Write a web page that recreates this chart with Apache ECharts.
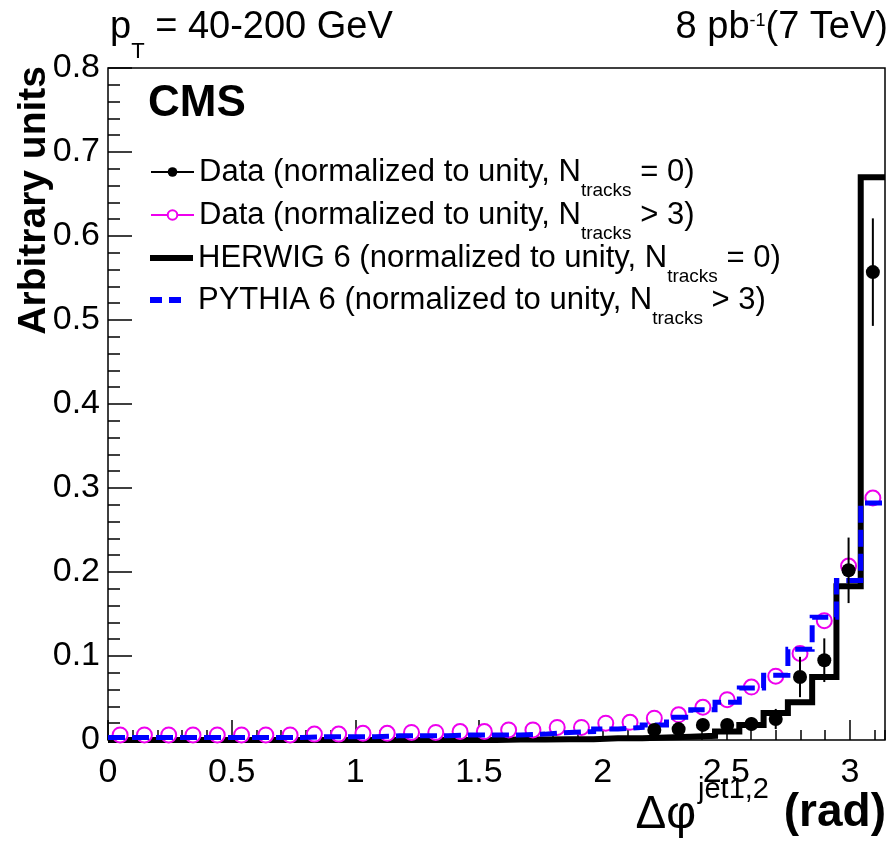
<!DOCTYPE html>
<html><head><meta charset="utf-8">
<script src="https://cdn.jsdelivr.net/npm/echarts@6/dist/echarts.min.js"></script>
<style>html,body{margin:0;padding:0;background:#fff}#c{width:892px;height:846px}</style>
</head><body><div id="c"></div>
<script>
// ---------------- data ----------------
const nBins = 32;
const xMin = 0, xMax = Math.PI;
// HERWIG 6, Ntracks = 0 (histogram, per bin)
const herwigN0 = [0,0,0,0,0,0,0,0,0,0,0,0,0,0,0,0,
  0.0005,0.0005,0.001,0.001,0.002,0.002,0.003,0.004,0.005,0.010,0.018,0.032,0.045,0.075,0.183,0.670];
// PYTHIA 6, Ntracks > 3 (histogram, per bin)
const pythiaN3 = [0.003,0.003,0.003,0.003,0.003,0.003,0.003,0.003,0.004,0.004,0.004,0.005,0.005,0.005,0.006,0.006,
  0.006,0.007,0.009,0.010,0.013,0.015,0.018,0.027,0.036,0.045,0.062,0.077,0.108,0.146,0.190,0.282];
// Data, Ntracks > 3 (open magenta circles)
const dataN3 = [0.006,0.006,0.006,0.006,0.006,0.006,0.006,0.006,0.007,0.007,0.008,0.008,0.009,0.009,0.010,0.010,
  0.012,0.012,0.015,0.015,0.020,0.021,0.026,0.030,0.039,0.048,0.063,0.076,0.103,0.142,0.207,0.288];
// Data, Ntracks = 0 (filled black points) and their errors
const dataN0 = [null,null,null,null,null,null,null,null,null,null,null,null,null,null,null,null,
  null,null,null,null,null,null,0.012,0.013,0.018,0.018,0.019,0.025,0.075,0.095,0.202,0.557];
const dataN0Err = [null,null,null,null,null,null,null,null,null,null,null,null,null,null,null,null,
  null,null,null,null,null,null,0.005,0.005,0.007,0.007,0.008,0.012,0.024,0.026,0.039,0.064];
const xTickStep = 0.5, xMinorStep = 0.1;
const yMin = 0, yMax = 0.8, yTickStep = 0.1;

// ---------------- helpers ----------------
const FONT = '"Liberation Sans", Arial, Helvetica, sans-serif';
const edges = Array.from({length: nBins + 1}, (_, k) => xMin + k * (xMax - xMin) / nBins);
const centers = Array.from({length: nBins}, (_, k) => (edges[k] + edges[k + 1]) / 2);
function stepData(vals) {
  const d = vals.map((v, k) => [edges[k], v]);
  d.push([edges[nBins], vals[nBins - 1]]);
  return d;
}
function pointData(vals) {
  return vals.map((v, k) => v == null ? null : [centers[k], v]).filter(Boolean);
}
function errData(vals, errs) {
  return vals.map((v, k) => v == null ? null : [centers[k], v - errs[k], v + errs[k]]).filter(Boolean);
}

const NAME_D0 = 'Data N0', NAME_D3 = 'Data N3', NAME_H = 'HERWIG', NAME_P = 'PYTHIA';
const MAG = '#ee00ee', BLUE = '#0000ff';

const legRich = {
  a: {fontSize: 31, lineHeight: 32, fontFamily: FONT, color: '#000'},
  s: {fontSize: 19, lineHeight: 32, fontFamily: FONT, color: '#000', verticalAlign: 'top', padding: [25, 0, 0, 0]}
};
function legend(name, left, top, text, extra) {
  return Object.assign({
    show: true, data: [name], left: left, top: top, orient: 'vertical', padding: 0,
    itemWidth: 43, itemHeight: 12, itemGap: 0, selectedMode: false,
    formatter: () => text, textStyle: {rich: legRich, color: '#000', fontFamily: FONT}
  }, extra || {});
}

const chart = echarts.init(document.getElementById('c'), null, {renderer: 'canvas'});
const option = {
  animation: false,
  backgroundColor: '#fff',
  grid: {left: 108, right: 7, top: 68, bottom: 106, show: true, borderColor: '#000', borderWidth: 1.5},
  xAxis: [{
    type: 'value', min: xMin, max: xMax, interval: xTickStep,
    axisLine: {show: false},
    axisTick: {show: true, inside: true, length: 20, lineStyle: {color: '#000', width: 1.5}},
    axisLabel: {show: true, margin: 16, fontSize: 34, fontFamily: FONT, color: '#000', showMaxLabel: false,
      formatter: v => Math.abs(v / xTickStep - Math.round(v / xTickStep)) < 1e-9 ? String(Math.round(v * 10) / 10) : ''},
    splitLine: {show: false}
  }, {
    type: 'value', min: xMin, max: xMax, interval: xMinorStep, position: 'bottom', gridIndex: 0,
    axisLine: {show: false},
    axisTick: {show: true, inside: true, length: 10, lineStyle: {color: '#000', width: 1.5}},
    axisLabel: {show: false}, splitLine: {show: false}
  }],
  yAxis: {
    type: 'value', min: yMin, max: yMax, interval: yTickStep,
    axisLine: {show: false},
    axisTick: {show: true, inside: true, length: 24, lineStyle: {color: '#000', width: 1.5}},
    minorTick: {show: true, splitNumber: 5, length: 12, lineStyle: {color: '#000', width: 1.5}},
    axisLabel: {margin: 8, fontSize: 34, fontFamily: FONT, color: '#000'},
    splitLine: {show: false}, minorSplitLine: {show: false}
  },
  legend: [
    legend(NAME_D0, 150, 156, '{a|Data (normalized to unity, N}{s|tracks}{a| = 0)}',
      {lineStyle: {opacity: 1, width: 2, color: '#000'}}),
    legend(NAME_D3, 150, 199, '{a|Data (normalized to unity, N}{s|tracks}{a| > 3)}',
      {lineStyle: {opacity: 1, width: 2, color: MAG}}),
    legend(NAME_H, 147, 242, '{a|HERWIG 6 (normalized to unity, N}{s|tracks}{a| = 0)}',
      {lineStyle: {width: 6, color: '#000'}, itemStyle: {opacity: 0}}),
    legend(NAME_P, 147, 284, '{a|PYTHIA 6 (normalized to unity, N}{s|tracks}{a| > 3)}',
      {lineStyle: {width: 6, color: BLUE, type: [12, 7, 12, 100]}, itemStyle: {opacity: 0}})
  ],
  series: [
    {
      name: NAME_H, type: 'line', step: 'end', data: stepData(herwigN0), symbol: 'none',
      lineStyle: {color: '#000', width: 6, join: 'miter', cap: 'butt'}, itemStyle: {color: '#000'}, z: 2
    },
    {
      name: NAME_D3, type: 'line', data: pointData(dataN3), symbol: 'emptyCircle', symbolSize: 15,
      lineStyle: {opacity: 0, width: 0, color: MAG},
      itemStyle: {color: MAG, borderColor: MAG, borderWidth: 1.5}, z: 3
    },
    {
      name: NAME_P, type: 'line', step: 'end', data: stepData(pythiaN3), symbol: 'none',
      lineStyle: {color: BLUE, width: 5, type: [17, 7], join: 'miter', cap: 'butt'}, itemStyle: {color: BLUE}, z: 4
    },
    {
      name: 'errN0', type: 'custom', data: errData(dataN0, dataN0Err), z: 5,
      encode: {x: 0, y: [1, 2]},
      renderItem: (params, api) => {
        const x = api.value(0);
        const p1 = api.coord([x, api.value(1)]);
        const p2 = api.coord([x, api.value(2)]);
        return {type: 'line', shape: {x1: p1[0], y1: p1[1], x2: p2[0], y2: p2[1]},
          style: {stroke: '#000', lineWidth: 2}};
      }
    },
    {
      name: NAME_D0, type: 'line', data: pointData(dataN0), symbol: 'circle', symbolSize: 14,
      lineStyle: {opacity: 0, width: 0, color: '#000'}, itemStyle: {color: '#000'}, z: 6
    }
  ],
  graphic: [
    {type: 'text', x: 110, y: 8, style: {
      text: '{a|p}{s|T}{a| = 40-200 GeV}', verticalAlign: 'top', align: 'left',
      rich: {a: {fontSize: 38, lineHeight: 40, fontFamily: FONT, color: '#000'},
             s: {fontSize: 22, lineHeight: 40, fontFamily: FONT, color: '#000', verticalAlign: 'top', padding: [33, 0, 0, 0]}}}},
    {type: 'text', x: 888, y: 8, style: {
      text: '{a|8 pb}{u|-1}{a|(7 TeV)}', verticalAlign: 'top', align: 'right',
      rich: {a: {fontSize: 38, lineHeight: 40, fontFamily: FONT, color: '#000'},
             u: {fontSize: 18, lineHeight: 40, fontFamily: FONT, color: '#000', verticalAlign: 'top', padding: [4, 0, 0, 0]}}}},
    {type: 'text', x: 148, y: 104, style: {
      text: 'CMS', fontSize: 44, fontWeight: 'bold', fontFamily: FONT, fill: '#000', verticalAlign: 'middle', align: 'left'}},
    {type: 'text', x: 34, y: 66, rotation: Math.PI / 2, style: {
      text: 'Arbitrary units', fontSize: 39, fontWeight: 'bold', fontFamily: FONT, fill: '#000', verticalAlign: 'middle', align: 'right'}},
    {type: 'text', x: 696, y: 815, style: {
      text: 'Δφ', fontSize: 46, fontFamily: FONT, fill: '#000', verticalAlign: 'middle', align: 'right'}},
    {type: 'text', x: 698, y: 790, style: {
      text: 'jet1,2', fontSize: 29, fontFamily: FONT, fill: '#000', verticalAlign: 'middle', align: 'left'}},
    {type: 'text', x: 886, y: 813, style: {
      text: '(rad)', fontSize: 46, fontWeight: 'bold', fontFamily: FONT, fill: '#000', verticalAlign: 'middle', align: 'right'}}
  ]
};
chart.setOption(option);
</script>
</body></html>
